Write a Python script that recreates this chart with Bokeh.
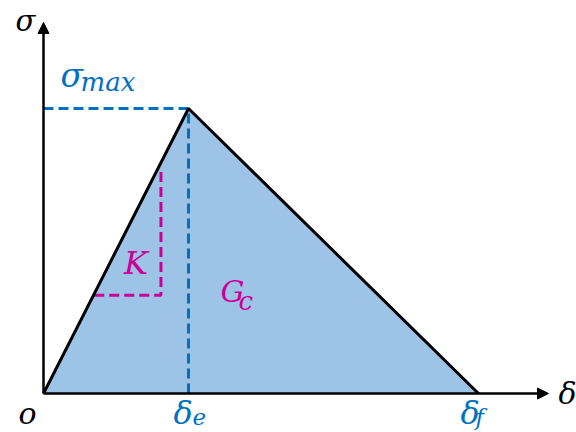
from bokeh.plotting import figure
from bokeh.models import Arrow, NormalHead
from bokeh.core.properties import value
from bokeh.embed import file_html
from bokeh.resources import INLINE

# Bilinear traction-separation law
delta = [0.0, 1.0, 3.0]          # 0, delta_e, delta_f
sigma = [0.0, 1.0, 0.0]          # 0, sigma_max, 0
delta_e = 1.0
delta_f = 3.0
sigma_max = 1.0

# stiffness triangle K (on the loading branch)
k_x = [0.35, 0.81, 0.81]
k_y = [0.345, 0.345, 0.78]

# extent of the axis arrows
x_axis_end = 3.483
y_axis_end = 1.302

BLUE = "#0070C0"
MAGENTA = "#CC0099"
FILL = "#9DC3E6"
FONT = value("DejaVu Serif")

p = figure(width=576, height=432,
           x_range=(-0.2966, 3.676), y_range=(-0.1368, 1.379),
           x_axis_type=None, y_axis_type=None,
           output_backend="svg", toolbar_location=None, min_border=0)
p.grid.visible = False
p.outline_line_color = None
p.background_fill_color = "white"
p.border_fill_color = "white"

# energy area G_c
p.patch(delta, sigma, fill_color=FILL, line_color=None)

# sigma_max / delta_e guides
p.line([0, delta_e], [sigma_max, sigma_max], line_color=BLUE, line_width=3, line_dash="10 5")
p.line([delta_e, delta_e], [0, sigma_max], line_color=BLUE, line_width=3, line_dash="10 5")

# stiffness triangle
p.line(k_x, k_y, line_color=MAGENTA, line_width=3, line_dash="10 5")

# law outline
p.line(delta, sigma, line_color="black", line_width=3)

# axes with arrow heads
for xe, ye in [(x_axis_end, 0.0), (0.0, y_axis_end)]:
    p.add_layout(Arrow(x_start=0, y_start=0, x_end=xe, y_end=ye,
                       line_color="black", line_width=2.5,
                       end=NormalHead(size=11, fill_color="black", line_color="black", line_width=1)))

def label(x, y, txt, color, size, dx, dy):
    p.text(x=[x], y=[y], text=[txt], text_color=color, text_font=FONT,
           text_font_style="italic", text_font_size=f"{size}px",
           text_align="left", text_baseline="alphabetic",
           x_offset=dx, y_offset=dy)

# axis names and origin
label(0, y_axis_end, "σ", "black", 29, -28, -1)
label(x_axis_end, 0, "δ", "black", 30, 10, 0)
label(0, 0, "o", "black", 30, -25, 20)

# characteristic values
label(0, sigma_max, "σ", BLUE, 33, 17, -33)
label(0, sigma_max, "max", BLUE, 26, 37, -27)
label(delta_e, 0, "δ", BLUE, 32, -15, 19)
label(delta_e, 0, "e", BLUE, 23, 4, 23)
label(delta_f, 0, "δ", BLUE, 32, -18, 19)
label(delta_f, 0, "f", BLUE, 23, -3, 23)

# stiffness and fracture energy
label(k_x[1], k_y[0], "K", MAGENTA, 32, -37, -32)
label(delta_e, 0, "G", MAGENTA, 30, 32, -102)
label(delta_e, 0, "c", MAGENTA, 26, 50, -93)

open("out.html", "w").write(file_html(p, INLINE))
